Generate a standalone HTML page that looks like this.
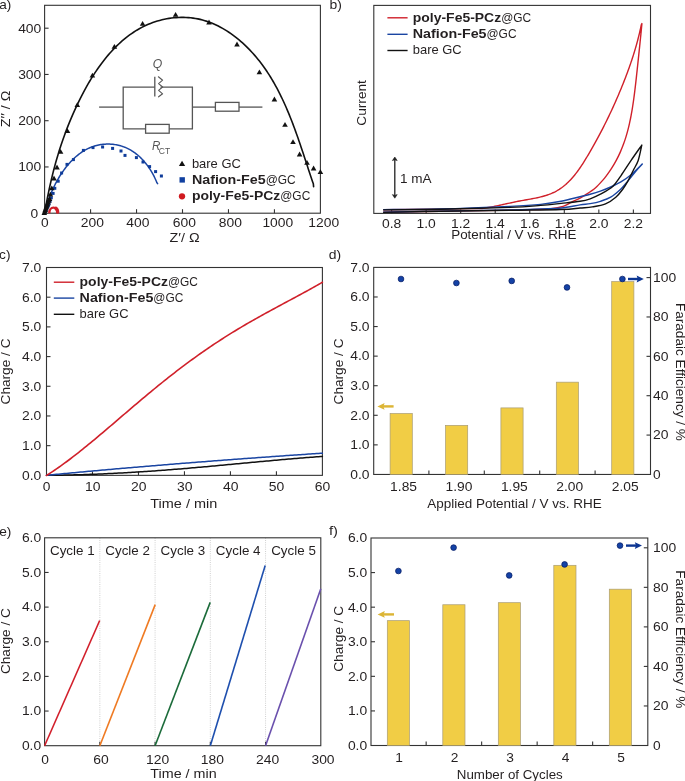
<!DOCTYPE html>
<html><head><meta charset="utf-8"><style>
html,body{margin:0;padding:0;background:#fff;overflow:hidden;}
svg{display:block;will-change:transform;}
text{font-family:"Liberation Sans",sans-serif;}
</style></head><body>
<svg width="685" height="781" viewBox="0 0 685 781">
<rect width="685" height="781" fill="#fff"/>
<text x="-0.72" y="9.40" font-size="12.70" fill="#231f20" textLength="12.09" lengthAdjust="spacingAndGlyphs">a)</text>
<text x="329.60" y="9.00" font-size="12.70" fill="#231f20" textLength="12.39" lengthAdjust="spacingAndGlyphs">b)</text>
<text x="-0.91" y="258.80" font-size="12.70" fill="#231f20" textLength="11.41" lengthAdjust="spacingAndGlyphs">c)</text>
<text x="328.80" y="258.80" font-size="12.70" fill="#231f20" textLength="12.39" lengthAdjust="spacingAndGlyphs">d)</text>
<text x="-0.82" y="535.80" font-size="12.70" fill="#231f20" textLength="12.19" lengthAdjust="spacingAndGlyphs">e)</text>
<text x="328.90" y="535.30" font-size="12.70" fill="#231f20" textLength="9.03" lengthAdjust="spacingAndGlyphs">f)</text>
<rect x="44.60" y="5.30" width="275.80" height="207.90" fill="none" stroke="#333" stroke-width="1.1"/>
<line x1="90.57" y1="213.20" x2="90.57" y2="209.20" stroke="#333" stroke-width="1.1"/>
<line x1="136.53" y1="213.20" x2="136.53" y2="209.20" stroke="#333" stroke-width="1.1"/>
<line x1="182.50" y1="213.20" x2="182.50" y2="209.20" stroke="#333" stroke-width="1.1"/>
<line x1="228.47" y1="213.20" x2="228.47" y2="209.20" stroke="#333" stroke-width="1.1"/>
<line x1="274.43" y1="213.20" x2="274.43" y2="209.20" stroke="#333" stroke-width="1.1"/>
<line x1="44.60" y1="166.95" x2="48.60" y2="166.95" stroke="#333" stroke-width="1.1"/>
<line x1="44.60" y1="120.70" x2="48.60" y2="120.70" stroke="#333" stroke-width="1.1"/>
<line x1="44.60" y1="74.45" x2="48.60" y2="74.45" stroke="#333" stroke-width="1.1"/>
<line x1="44.60" y1="28.20" x2="48.60" y2="28.20" stroke="#333" stroke-width="1.1"/>
<text x="41.11" y="227.20" font-size="12.70" fill="#231f20" textLength="7.65" lengthAdjust="spacingAndGlyphs">0</text>
<text x="80.74" y="227.20" font-size="12.70" fill="#231f20" textLength="23.15" lengthAdjust="spacingAndGlyphs">200</text>
<text x="126.24" y="227.20" font-size="12.70" fill="#231f20" textLength="23.15" lengthAdjust="spacingAndGlyphs">400</text>
<text x="172.84" y="227.20" font-size="12.70" fill="#231f20" textLength="23.15" lengthAdjust="spacingAndGlyphs">600</text>
<text x="218.74" y="227.20" font-size="12.70" fill="#231f20" textLength="23.15" lengthAdjust="spacingAndGlyphs">800</text>
<text x="262.40" y="227.20" font-size="12.70" fill="#231f20" textLength="30.80" lengthAdjust="spacingAndGlyphs">1000</text>
<text x="308.30" y="227.20" font-size="12.70" fill="#231f20" textLength="30.80" lengthAdjust="spacingAndGlyphs">1200</text>
<text x="30.42" y="217.55" font-size="12.70" fill="#231f20" textLength="7.65" lengthAdjust="spacingAndGlyphs">0</text>
<text x="18.17" y="171.30" font-size="12.70" fill="#231f20" textLength="23.15" lengthAdjust="spacingAndGlyphs">100</text>
<text x="18.17" y="125.05" font-size="12.70" fill="#231f20" textLength="23.15" lengthAdjust="spacingAndGlyphs">200</text>
<text x="18.17" y="78.80" font-size="12.70" fill="#231f20" textLength="23.15" lengthAdjust="spacingAndGlyphs">300</text>
<text x="18.17" y="32.55" font-size="12.70" fill="#231f20" textLength="23.15" lengthAdjust="spacingAndGlyphs">400</text>
<text x="169.60" y="241.90" font-size="12.70" fill="#231f20" textLength="30.03" lengthAdjust="spacingAndGlyphs">Z′/ Ω</text>
<text transform="translate(9.90,108.90) rotate(-90)" x="-18.30" y="0" font-size="12.70" fill="#231f20" textLength="36.58" lengthAdjust="spacingAndGlyphs">Z′′ / Ω</text>
<line x1="99.10" y1="107.10" x2="123.20" y2="107.10" stroke="#555" stroke-width="1.3"/>
<path d="M154.80,87.20 L123.20,87.20 L123.20,128.90 L145.60,128.90" fill="none" stroke="#555" stroke-width="1.3" stroke-linecap="butt" stroke-linejoin="miter"/>
<rect x="145.60" y="124.40" width="23.60" height="8.80" fill="none" stroke="#555" stroke-width="1.3"/>
<path d="M169.20,128.90 L192.40,128.90 L192.40,87.20 L160.50,87.20" fill="none" stroke="#555" stroke-width="1.3" stroke-linecap="butt" stroke-linejoin="miter"/>
<line x1="192.40" y1="107.10" x2="215.40" y2="107.10" stroke="#555" stroke-width="1.3"/>
<rect x="215.40" y="102.40" width="23.60" height="8.80" fill="none" stroke="#555" stroke-width="1.3"/>
<line x1="239.00" y1="107.10" x2="262.40" y2="107.10" stroke="#555" stroke-width="1.3"/>
<line x1="154.80" y1="76.80" x2="154.80" y2="96.60" stroke="#555" stroke-width="1.3"/>
<path d="M158.40,76.80 L162.60,80.20 L158.60,83.60 L162.60,87.00 L158.60,90.40 L162.60,93.80 L158.60,96.80" fill="none" stroke="#555" stroke-width="1.1" stroke-linejoin="round" stroke-linecap="round"/>
<text x="152.85" y="67.60" font-size="12.70" font-style="italic" fill="#555" textLength="9.53" lengthAdjust="spacingAndGlyphs">Q</text>
<text x="152.00" y="150.30" font-size="12.70" font-style="italic" fill="#555" textLength="8.35" lengthAdjust="spacingAndGlyphs">R</text>
<text x="158.80" y="153.50" font-size="9.10" fill="#555" textLength="11.43" lengthAdjust="spacingAndGlyphs">CT</text>
<path d="M44.60,213.20 L45.02,210.86 L45.46,208.36 L45.91,205.87 L46.36,203.39 L46.83,200.92 L47.30,198.46 L47.79,196.02 L48.28,193.58 L48.78,191.16 L49.29,188.75 L49.81,186.35 L50.35,183.96 L50.89,181.58 L51.44,179.20 L52.01,176.84 L52.58,174.48 L53.17,172.13 L53.77,169.80 L54.39,167.46 L55.01,165.14 L55.65,162.82 L56.30,160.51 L56.96,158.20 L57.64,155.90 L58.34,153.61 L59.04,151.32 L59.76,149.03 L60.50,146.75 L61.25,144.48 L62.02,142.21 L62.80,139.94 L63.60,137.67 L64.41,135.41 L65.24,133.15 L66.09,130.89 L66.95,128.63 L67.83,126.38 L68.73,124.12 L69.65,121.87 L70.59,119.61 L71.54,117.36 L72.51,115.11 L73.50,112.85 L74.51,110.59 L75.54,108.34 L76.59,106.08 L77.66,103.82 L78.75,101.56 L79.86,99.31 L81.00,97.06 L82.15,94.81 L83.32,92.58 L84.52,90.34 L85.73,88.12 L86.97,85.91 L88.23,83.71 L89.52,81.52 L90.82,79.35 L92.15,77.20 L93.51,75.06 L94.88,72.94 L96.28,70.83 L97.71,68.75 L99.15,66.70 L100.63,64.66 L102.12,62.65 L103.65,60.67 L105.19,58.71 L106.77,56.78 L108.36,54.89 L109.99,53.02 L111.64,51.19 L113.31,49.39 L115.02,47.63 L116.75,45.90 L118.51,44.21 L120.29,42.56 L122.10,40.95 L123.94,39.39 L125.81,37.86 L127.71,36.38 L129.64,34.95 L131.59,33.56 L133.57,32.23 L135.59,30.94 L137.63,29.70 L139.70,28.52 L141.81,27.39 L143.94,26.31 L146.10,25.29 L148.30,24.33 L150.52,23.43 L152.77,22.58 L155.04,21.80 L157.34,21.08 L159.66,20.42 L162.00,19.82 L164.35,19.28 L166.72,18.81 L169.10,18.41 L171.48,18.07 L173.88,17.79 L176.29,17.59 L178.69,17.45 L181.10,17.38 L183.51,17.38 L185.92,17.45 L188.32,17.59 L190.71,17.80 L193.10,18.09 L195.47,18.45 L197.84,18.89 L200.18,19.40 L202.51,19.99 L204.82,20.65 L207.12,21.38 L209.39,22.18 L211.65,23.06 L213.88,24.00 L216.09,25.00 L218.28,26.06 L220.44,27.19 L222.59,28.37 L224.71,29.61 L226.80,30.90 L228.87,32.25 L230.91,33.64 L232.92,35.09 L234.91,36.58 L236.86,38.11 L238.79,39.68 L240.69,41.30 L242.56,42.95 L244.39,44.63 L246.20,46.35 L247.97,48.11 L249.71,49.89 L251.41,51.69 L253.08,53.53 L254.72,55.39 L256.32,57.27 L257.89,59.17 L259.42,61.10 L260.93,63.05 L262.41,65.03 L263.85,67.02 L265.27,69.03 L266.65,71.07 L268.01,73.12 L269.34,75.19 L270.65,77.28 L271.92,79.39 L273.18,81.51 L274.40,83.65 L275.60,85.80 L276.78,87.97 L277.94,90.15 L279.07,92.35 L280.18,94.56 L281.27,96.78 L282.34,99.01 L283.39,101.25 L284.42,103.50 L285.44,105.77 L286.43,108.04 L287.41,110.32 L288.37,112.61 L289.31,114.90 L290.24,117.20 L291.15,119.51 L292.05,121.82 L292.94,124.14 L293.81,126.46 L294.67,128.78 L295.52,131.10 L296.36,133.43 L297.19,135.76 L298.01,138.09 L298.82,140.42 L299.62,142.75 L300.41,145.08 L301.20,147.41 L301.98,149.73 L302.75,152.05 L303.52,154.37 L304.28,156.68 L305.04,158.99 L305.80,161.29 L306.56,163.59 L307.31,165.87 L308.06,168.16 L308.81,170.43 L309.56,172.69 L310.31,174.95 L311.07,177.19 L311.82,179.43 L312.58,181.65 L313.34,183.86 L313.60,186.60" fill="none" stroke="#111111" stroke-width="1.6" stroke-linejoin="round" stroke-linecap="round"/>
<path d="M44.60,213.20 L45.07,211.82 L45.30,210.85 L45.54,209.87 L45.79,208.88 L46.06,207.88 L46.34,206.88 L46.63,205.87 L46.93,204.85 L47.24,203.83 L47.57,202.80 L47.90,201.77 L48.25,200.73 L48.61,199.69 L48.98,198.64 L49.37,197.60 L49.76,196.55 L50.17,195.50 L50.59,194.44 L51.02,193.39 L51.46,192.33 L51.91,191.28 L52.37,190.22 L52.85,189.17 L53.33,188.11 L53.83,187.06 L54.34,186.01 L54.86,184.97 L55.39,183.92 L55.94,182.88 L56.49,181.84 L57.05,180.81 L57.63,179.79 L58.22,178.76 L58.81,177.75 L59.42,176.74 L60.04,175.73 L60.67,174.74 L61.32,173.75 L61.97,172.77 L62.63,171.80 L63.31,170.84 L63.99,169.88 L64.69,168.94 L65.39,168.01 L66.11,167.08 L66.84,166.17 L67.57,165.27 L68.32,164.39 L69.08,163.51 L69.85,162.65 L70.63,161.80 L71.42,160.97 L72.22,160.15 L73.03,159.35 L73.85,158.56 L74.68,157.79 L75.53,157.03 L76.38,156.29 L77.24,155.57 L78.11,154.87 L78.99,154.18 L79.89,153.51 L80.79,152.86 L81.70,152.23 L82.62,151.63 L83.55,151.04 L84.50,150.47 L85.45,149.92 L86.41,149.40 L87.38,148.90 L88.36,148.42 L89.35,147.97 L90.35,147.53 L91.37,147.13 L92.39,146.74 L93.41,146.39 L94.45,146.05 L95.50,145.75 L96.56,145.46 L97.62,145.21 L98.69,144.98 L99.77,144.77 L100.85,144.59 L101.94,144.44 L103.03,144.31 L104.12,144.21 L105.22,144.14 L106.32,144.09 L107.42,144.06 L108.52,144.06 L109.63,144.09 L110.73,144.15 L111.83,144.23 L112.93,144.33 L114.03,144.47 L115.13,144.62 L116.22,144.81 L117.31,145.02 L118.40,145.26 L119.48,145.52 L120.55,145.81 L121.62,146.13 L122.68,146.47 L123.73,146.84 L124.78,147.24 L125.81,147.66 L126.84,148.11 L127.85,148.59 L128.86,149.10 L129.85,149.63 L130.83,150.18 L131.80,150.77 L132.76,151.37 L133.70,152.01 L134.63,152.67 L135.55,153.35 L136.45,154.05 L137.34,154.77 L138.22,155.52 L139.09,156.28 L139.93,157.07 L140.77,157.87 L141.59,158.69 L142.40,159.53 L143.19,160.38 L143.97,161.26 L144.73,162.14 L145.48,163.04 L146.21,163.95 L146.92,164.88 L147.62,165.82 L148.31,166.76 L148.98,167.72 L149.63,168.69 L150.26,169.67 L150.88,170.66 L151.48,171.65 L152.07,172.65 L152.63,173.66 L153.18,174.67 L153.72,175.68 L154.23,176.70 L154.73,177.73 L155.20,178.75 L155.66,179.78 L156.10,180.81 L156.53,181.83 L156.93,182.86 L157.60,183.60" fill="none" stroke="#1a45a2" stroke-width="1.5" stroke-linejoin="round" stroke-linecap="round"/>
<rect x="43.70" y="210.50" width="3" height="3" fill="#0f3c9a"/>
<rect x="44.30" y="209.10" width="3" height="3" fill="#0f3c9a"/>
<rect x="44.90" y="207.70" width="3" height="3" fill="#0f3c9a"/>
<rect x="45.50" y="206.30" width="3" height="3" fill="#0f3c9a"/>
<rect x="46.10" y="205.10" width="3" height="3" fill="#0f3c9a"/>
<rect x="46.80" y="204.10" width="3" height="3" fill="#0f3c9a"/>
<rect x="47.50" y="202.50" width="3" height="3" fill="#0f3c9a"/>
<rect x="48.60" y="199.50" width="3" height="3" fill="#0f3c9a"/>
<rect x="49.80" y="196.30" width="3" height="3" fill="#0f3c9a"/>
<rect x="51.60" y="191.90" width="3" height="3" fill="#0f3c9a"/>
<rect x="53.30" y="186.80" width="3" height="3" fill="#0f3c9a"/>
<rect x="56.70" y="179.70" width="3" height="3" fill="#0f3c9a"/>
<rect x="60.10" y="171.50" width="3" height="3" fill="#0f3c9a"/>
<rect x="65.50" y="162.90" width="3" height="3" fill="#0f3c9a"/>
<rect x="71.90" y="158.10" width="3" height="3" fill="#0f3c9a"/>
<rect x="81.90" y="148.90" width="3" height="3" fill="#0f3c9a"/>
<rect x="91.50" y="146.10" width="3" height="3" fill="#0f3c9a"/>
<rect x="101.10" y="145.50" width="3" height="3" fill="#0f3c9a"/>
<rect x="111.10" y="146.90" width="3" height="3" fill="#0f3c9a"/>
<rect x="119.50" y="149.50" width="3" height="3" fill="#0f3c9a"/>
<rect x="123.50" y="153.90" width="3" height="3" fill="#0f3c9a"/>
<rect x="134.90" y="156.10" width="3" height="3" fill="#0f3c9a"/>
<rect x="141.50" y="160.50" width="3" height="3" fill="#0f3c9a"/>
<rect x="148.10" y="165.10" width="3" height="3" fill="#0f3c9a"/>
<rect x="154.10" y="170.10" width="3" height="3" fill="#0f3c9a"/>
<rect x="159.90" y="174.50" width="3" height="3" fill="#0f3c9a"/>
<path d="M41.50,215.00 L47.10,215.00 L44.30,210.20 Z" fill="#111111"/>
<path d="M42.00,213.60 L47.60,213.60 L44.80,208.80 Z" fill="#111111"/>
<path d="M42.50,212.00 L48.10,212.00 L45.30,207.20 Z" fill="#111111"/>
<path d="M43.00,210.60 L48.60,210.60 L45.80,205.80 Z" fill="#111111"/>
<path d="M43.50,209.20 L49.10,209.20 L46.30,204.40 Z" fill="#111111"/>
<path d="M44.00,207.70 L49.60,207.70 L46.80,202.90 Z" fill="#111111"/>
<path d="M44.50,206.20 L50.10,206.20 L47.30,201.40 Z" fill="#111111"/>
<path d="M45.20,204.60 L50.80,204.60 L48.00,199.80 Z" fill="#111111"/>
<path d="M46.00,202.70 L51.60,202.70 L48.80,197.90 Z" fill="#111111"/>
<path d="M46.70,200.90 L52.30,200.90 L49.50,196.10 Z" fill="#111111"/>
<path d="M47.60,196.50 L53.20,196.50 L50.40,191.70 Z" fill="#111111"/>
<path d="M49.00,190.20 L54.60,190.20 L51.80,185.40 Z" fill="#111111"/>
<path d="M51.20,180.40 L56.80,180.40 L54.00,175.60 Z" fill="#111111"/>
<path d="M54.20,169.40 L59.80,169.40 L57.00,164.60 Z" fill="#111111"/>
<path d="M57.80,153.70 L63.40,153.70 L60.60,148.90 Z" fill="#111111"/>
<path d="M64.70,133.10 L70.30,133.10 L67.50,128.30 Z" fill="#111111"/>
<path d="M74.50,107.00 L80.10,107.00 L77.30,102.20 Z" fill="#111111"/>
<path d="M89.60,77.60 L95.20,77.60 L92.40,72.80 Z" fill="#111111"/>
<path d="M111.60,48.80 L117.20,48.80 L114.40,44.00 Z" fill="#111111"/>
<path d="M139.80,25.70 L145.40,25.70 L142.60,20.90 Z" fill="#111111"/>
<path d="M172.80,16.80 L178.40,16.80 L175.60,12.00 Z" fill="#111111"/>
<path d="M206.20,24.40 L211.80,24.40 L209.00,19.60 Z" fill="#111111"/>
<path d="M234.20,46.40 L239.80,46.40 L237.00,41.60 Z" fill="#111111"/>
<path d="M256.60,74.20 L262.20,74.20 L259.40,69.40 Z" fill="#111111"/>
<path d="M271.60,101.40 L277.20,101.40 L274.40,96.60 Z" fill="#111111"/>
<path d="M282.20,126.80 L287.80,126.80 L285.00,122.00 Z" fill="#111111"/>
<path d="M290.20,144.00 L295.80,144.00 L293.00,139.20 Z" fill="#111111"/>
<path d="M296.80,156.40 L302.40,156.40 L299.60,151.60 Z" fill="#111111"/>
<path d="M304.20,164.80 L309.80,164.80 L307.00,160.00 Z" fill="#111111"/>
<path d="M310.80,170.40 L316.40,170.40 L313.60,165.60 Z" fill="#111111"/>
<path d="M317.60,174.00 L323.20,174.00 L320.40,169.20 Z" fill="#111111"/>
<path d="M49.3,213.2 A4.1,5.6 0 0 1 57.5,213.2" fill="none" stroke="#d0202a" stroke-width="2.4" stroke-linejoin="round" stroke-linecap="butt"/>
<circle cx="57.66" cy="212.01" r="1.75" fill="#d0202a"/>
<circle cx="57.39" cy="210.66" r="1.75" fill="#d0202a"/>
<circle cx="56.79" cy="209.29" r="1.75" fill="#d0202a"/>
<circle cx="55.87" cy="208.13" r="1.75" fill="#d0202a"/>
<path d="M178.90,166.10 L185.20,166.10 L182.05,160.70 Z" fill="#111111"/>
<rect x="179.5" y="177.2" width="5.4" height="5.4" fill="#1040a0"/>
<circle cx="182" cy="196.3" r="3.15" fill="#d01a20"/>
<text x="191.90" y="167.50" font-size="12.70" fill="#231f20" textLength="48.93" lengthAdjust="spacingAndGlyphs">bare GC</text>
<text x="191.90" y="184.00" font-size="12.70" font-weight="bold" fill="#231f20" textLength="73.73" lengthAdjust="spacingAndGlyphs">Nafion-Fe5</text>
<text x="265.63" y="184.00" font-size="12.70" fill="#231f20" textLength="29.98" lengthAdjust="spacingAndGlyphs">@GC</text>
<text x="191.90" y="200.20" font-size="12.70" font-weight="bold" fill="#231f20" textLength="88.38" lengthAdjust="spacingAndGlyphs">poly-Fe5-PCz</text>
<text x="280.28" y="200.20" font-size="12.70" fill="#231f20" textLength="29.98" lengthAdjust="spacingAndGlyphs">@GC</text>
<rect x="373.80" y="5.40" width="276.70" height="208.00" fill="none" stroke="#333" stroke-width="1.1"/>
<line x1="391.60" y1="213.40" x2="391.60" y2="209.40" stroke="#333" stroke-width="1.1"/>
<line x1="426.14" y1="213.40" x2="426.14" y2="209.40" stroke="#333" stroke-width="1.1"/>
<line x1="460.68" y1="213.40" x2="460.68" y2="209.40" stroke="#333" stroke-width="1.1"/>
<line x1="495.22" y1="213.40" x2="495.22" y2="209.40" stroke="#333" stroke-width="1.1"/>
<line x1="529.76" y1="213.40" x2="529.76" y2="209.40" stroke="#333" stroke-width="1.1"/>
<line x1="564.30" y1="213.40" x2="564.30" y2="209.40" stroke="#333" stroke-width="1.1"/>
<line x1="598.84" y1="213.40" x2="598.84" y2="209.40" stroke="#333" stroke-width="1.1"/>
<line x1="633.38" y1="213.40" x2="633.38" y2="209.40" stroke="#333" stroke-width="1.1"/>
<text x="381.95" y="227.50" font-size="12.70" fill="#231f20" textLength="19.27" lengthAdjust="spacingAndGlyphs">0.8</text>
<text x="416.49" y="227.50" font-size="12.70" fill="#231f20" textLength="19.27" lengthAdjust="spacingAndGlyphs">1.0</text>
<text x="451.03" y="227.50" font-size="12.70" fill="#231f20" textLength="19.27" lengthAdjust="spacingAndGlyphs">1.2</text>
<text x="485.57" y="227.50" font-size="12.70" fill="#231f20" textLength="19.27" lengthAdjust="spacingAndGlyphs">1.4</text>
<text x="520.11" y="227.50" font-size="12.70" fill="#231f20" textLength="19.27" lengthAdjust="spacingAndGlyphs">1.6</text>
<text x="554.65" y="227.50" font-size="12.70" fill="#231f20" textLength="19.27" lengthAdjust="spacingAndGlyphs">1.8</text>
<text x="589.19" y="227.50" font-size="12.70" fill="#231f20" textLength="19.27" lengthAdjust="spacingAndGlyphs">2.0</text>
<text x="623.73" y="227.50" font-size="12.70" fill="#231f20" textLength="19.27" lengthAdjust="spacingAndGlyphs">2.2</text>
<text x="451.20" y="239.20" font-size="12.70" fill="#231f20" textLength="125.32" lengthAdjust="spacingAndGlyphs">Potential / V vs. RHE</text>
<text transform="translate(365.60,102.90) rotate(-90)" x="-22.78" y="0" font-size="12.70" fill="#231f20" textLength="45.57" lengthAdjust="spacingAndGlyphs">Current</text>
<path d="M383.20,209.80 L440.00,209.10 L480.00,208.40 L481.88,208.55 L483.51,208.31 L485.14,208.06 L486.77,207.79 L488.40,207.51 L490.02,207.21 L491.65,206.90 L493.27,206.58 L494.89,206.25 L496.52,205.92 L498.14,205.57 L499.77,205.22 L501.41,204.87 L503.05,204.51 L504.69,204.15 L506.34,203.79 L507.99,203.43 L509.65,203.07 L511.32,202.71 L513.00,202.35 L514.69,202.00 L516.38,201.65 L518.09,201.31 L519.81,200.98 L521.54,200.66 L523.28,200.34 L525.03,200.03 L526.78,199.72 L528.54,199.40 L530.29,199.08 L532.05,198.76 L533.80,198.42 L535.54,198.07 L537.28,197.70 L539.00,197.32 L540.71,196.91 L542.40,196.48 L544.07,196.02 L545.72,195.53 L547.35,195.00 L548.95,194.44 L550.53,193.84 L552.07,193.20 L553.58,192.51 L555.05,191.78 L556.49,191.01 L557.90,190.19 L559.28,189.33 L560.63,188.42 L561.94,187.48 L563.23,186.50 L564.49,185.49 L565.73,184.44 L566.93,183.36 L568.11,182.24 L569.27,181.10 L570.41,179.92 L571.52,178.72 L572.61,177.49 L573.68,176.23 L574.73,174.95 L575.76,173.65 L576.78,172.32 L577.78,170.98 L578.76,169.62 L579.73,168.24 L580.68,166.85 L581.62,165.44 L582.55,164.02 L583.47,162.58 L584.38,161.14 L585.28,159.69 L586.17,158.23 L587.05,156.76 L587.93,155.29 L588.80,153.82 L589.66,152.34 L590.52,150.86 L591.38,149.38 L592.23,147.89 L593.07,146.40 L593.91,144.91 L594.75,143.42 L595.58,141.92 L596.40,140.42 L597.22,138.92 L598.03,137.41 L598.84,135.90 L599.64,134.39 L600.44,132.88 L601.23,131.37 L602.02,129.85 L602.80,128.33 L603.57,126.81 L604.34,125.29 L605.11,123.76 L605.87,122.23 L606.63,120.70 L607.38,119.17 L608.12,117.63 L608.86,116.10 L609.59,114.56 L610.32,113.02 L611.05,111.48 L611.77,109.93 L612.48,108.39 L613.19,106.84 L613.89,105.29 L614.59,103.74 L615.28,102.19 L615.97,100.63 L616.65,99.08 L617.32,97.52 L618.00,95.96 L618.66,94.40 L619.32,92.84 L619.98,91.28 L620.63,89.71 L621.27,88.15 L621.91,86.58 L622.55,85.02 L623.18,83.45 L623.80,81.88 L624.42,80.31 L625.03,78.73 L625.64,77.16 L626.24,75.58 L626.83,74.00 L627.42,72.42 L628.01,70.84 L628.58,69.26 L629.15,67.67 L629.71,66.08 L630.27,64.49 L630.82,62.89 L631.36,61.29 L631.89,59.69 L632.42,58.09 L632.94,56.48 L633.45,54.87 L633.96,53.26 L634.45,51.64 L634.94,50.01 L635.42,48.39 L635.89,46.76 L636.36,45.12 L636.81,43.49 L637.26,41.84 L637.70,40.20 L638.13,38.54 L638.54,36.89 L638.96,35.22 L639.36,33.56 L639.75,31.89 L640.13,30.21 L640.50,28.53 L640.87,26.84 L641.22,25.14 L641.90,23.60 L641.90,23.60 C641.84,24.27 641.65,26.27 641.52,27.60 C641.40,28.93 641.27,30.27 641.14,31.60 C641.01,32.93 640.88,34.27 640.75,35.60 C640.62,36.93 640.48,38.27 640.34,39.60 C640.21,40.93 640.07,42.27 639.93,43.60 C639.80,44.93 639.66,46.27 639.52,47.60 C639.38,48.93 639.24,50.27 639.10,51.60 C638.96,52.93 638.82,54.27 638.68,55.60 C638.54,56.93 638.40,58.27 638.26,59.60 C638.12,60.93 637.98,62.27 637.84,63.60 C637.70,64.93 637.56,66.27 637.41,67.60 C637.27,68.93 637.13,70.27 636.98,71.60 C636.84,72.93 636.70,74.27 636.55,75.60 C636.40,76.93 636.26,78.27 636.11,79.60 C635.96,80.93 635.81,82.27 635.66,83.60 C635.50,84.93 635.35,86.27 635.19,87.60 C635.03,88.93 634.87,90.27 634.70,91.60 C634.54,92.93 634.37,94.27 634.19,95.60 C634.02,96.93 633.84,98.27 633.66,99.60 C633.47,100.93 633.28,102.27 633.08,103.60 C632.88,104.93 632.68,106.27 632.47,107.60 C632.25,108.93 632.03,110.27 631.80,111.60 C631.57,112.93 631.33,114.27 631.08,115.60 C630.83,116.93 630.57,118.27 630.30,119.60 C630.02,120.93 629.74,122.27 629.44,123.60 C629.14,124.93 628.83,126.27 628.50,127.60 C628.17,128.93 627.83,130.27 627.46,131.60 C627.10,132.93 626.72,134.27 626.32,135.60 C625.93,136.93 625.51,138.27 625.07,139.60 C624.63,140.93 624.17,142.27 623.69,143.60 C623.21,144.93 622.70,146.27 622.17,147.60 C621.64,148.93 621.08,150.27 620.50,151.60 C619.91,152.93 619.30,154.27 618.66,155.60 C618.01,156.93 617.34,158.27 616.64,159.60 C615.93,160.93 615.20,162.27 614.43,163.60 C613.65,164.93 612.85,166.27 612.00,167.60 C611.16,168.93 610.27,170.27 609.35,171.60 C608.43,172.93 607.47,174.27 606.46,175.60 C605.45,176.93 605.17,177.53 603.31,179.60 C601.45,181.67 598.33,185.40 595.30,188.00 C592.27,190.60 587.65,193.50 585.10,195.20 C582.55,196.90 582.30,197.02 580.00,198.20 C577.70,199.38 574.12,200.93 571.30,202.30 C568.48,203.67 566.50,205.33 563.10,206.40 C559.70,207.47 556.42,208.17 550.90,208.70 C545.38,209.23 538.48,209.32 530.00,209.60 C521.52,209.88 515.00,210.13 500.00,210.40 C485.00,210.67 459.47,210.88 440.00,211.20 C420.53,211.52 392.67,212.12 383.20,212.30" fill="none" stroke="#d0202a" stroke-width="1.4" stroke-linejoin="round" stroke-linecap="butt"/>
<path d="M383.20,209.60 C392.67,209.50 418.87,209.53 440.00,209.00 C461.13,208.47 493.22,207.17 510.00,206.40 C526.78,205.63 532.18,205.25 540.70,204.40 C549.22,203.55 554.55,202.58 561.10,201.30 C567.65,200.02 575.15,197.88 580.00,196.70 C584.85,195.52 586.80,195.13 590.20,194.20 C593.60,193.27 596.98,192.30 600.40,191.10 C603.82,189.90 607.28,188.53 610.70,187.00 C614.12,185.47 617.50,183.95 620.90,181.90 C624.30,179.85 627.53,177.68 631.10,174.70 C634.67,171.72 640.43,165.78 642.30,164.00 L642.30,164.00 C641.28,165.12 638.58,167.88 636.20,170.70 C633.82,173.52 630.55,177.85 628.00,180.90 C625.45,183.95 623.78,186.28 620.90,189.00 C618.02,191.72 614.12,195.15 610.70,197.20 C607.28,199.25 603.82,200.23 600.40,201.30 C596.98,202.37 593.60,203.00 590.20,203.60 C586.80,204.20 584.85,204.17 580.00,204.90 C575.15,205.63 567.65,207.33 561.10,208.00 C554.55,208.67 549.22,208.57 540.70,208.90 C532.18,209.23 526.78,209.63 510.00,210.00 C493.22,210.37 461.13,210.73 440.00,211.10 C418.87,211.47 392.67,212.02 383.20,212.20" fill="none" stroke="#1a45a2" stroke-width="1.4" stroke-linejoin="round" stroke-linecap="butt"/>
<path d="M383.20,209.90 C392.67,209.78 418.87,209.62 440.00,209.20 C461.13,208.78 493.22,208.03 510.00,207.40 C526.78,206.77 532.18,206.07 540.70,205.40 C549.22,204.73 554.55,204.08 561.10,203.40 C567.65,202.72 575.15,202.07 580.00,201.30 C584.85,200.53 586.80,199.98 590.20,198.80 C593.60,197.62 596.65,196.25 600.40,194.20 C604.15,192.15 609.28,189.57 612.70,186.50 C616.12,183.43 617.83,180.15 620.90,175.80 C623.97,171.45 627.62,165.52 631.10,160.40 C634.58,155.28 640.02,147.65 641.80,145.10 L641.80,145.10 C641.20,147.65 639.65,156.13 638.20,160.40 C636.75,164.67 634.80,167.28 633.10,170.70 C631.40,174.12 629.70,177.85 628.00,180.90 C626.30,183.95 624.93,186.28 622.90,189.00 C620.87,191.72 618.70,194.72 615.80,197.20 C612.90,199.68 609.42,202.28 605.50,203.90 C601.58,205.52 596.55,206.22 592.30,206.90 C588.05,207.58 585.20,207.57 580.00,208.00 C574.80,208.43 572.77,209.12 561.10,209.50 C549.43,209.88 530.18,210.00 510.00,210.30 C489.82,210.60 461.13,210.95 440.00,211.30 C418.87,211.65 392.67,212.22 383.20,212.40" fill="none" stroke="#111111" stroke-width="1.4" stroke-linejoin="round" stroke-linecap="butt"/>
<line x1="387.40" y1="17.80" x2="407.60" y2="17.80" stroke="#d0202a" stroke-width="1.4"/>
<line x1="387.40" y1="34.30" x2="407.60" y2="34.30" stroke="#1a45a2" stroke-width="1.4"/>
<line x1="387.40" y1="50.50" x2="407.60" y2="50.50" stroke="#111111" stroke-width="1.4"/>
<text x="412.80" y="22.10" font-size="12.70" font-weight="bold" fill="#231f20" textLength="88.38" lengthAdjust="spacingAndGlyphs">poly-Fe5-PCz</text>
<text x="501.18" y="22.10" font-size="12.70" fill="#231f20" textLength="29.98" lengthAdjust="spacingAndGlyphs">@GC</text>
<text x="412.80" y="37.80" font-size="12.70" font-weight="bold" fill="#231f20" textLength="73.73" lengthAdjust="spacingAndGlyphs">Nafion-Fe5</text>
<text x="486.53" y="37.80" font-size="12.70" fill="#231f20" textLength="29.98" lengthAdjust="spacingAndGlyphs">@GC</text>
<text x="412.80" y="54.40" font-size="12.70" fill="#231f20" textLength="48.93" lengthAdjust="spacingAndGlyphs">bare GC</text>
<line x1="394.80" y1="159.00" x2="394.80" y2="196.20" stroke="#222" stroke-width="1.3"/>
<path d="M394.8,157.0 L397.2,160.6 L394.8,159.8 L392.4,160.6 Z" fill="#222" stroke="#222" stroke-width="0.6" stroke-linejoin="round"/>
<path d="M394.8,198.2 L397.2,194.6 L394.8,195.4 L392.4,194.6 Z" fill="#222" stroke="#222" stroke-width="0.6" stroke-linejoin="round"/>
<text x="400.00" y="182.90" font-size="12.70" fill="#231f20" textLength="31.62" lengthAdjust="spacingAndGlyphs">1 mA</text>
<rect x="46.50" y="267.50" width="275.90" height="207.85" fill="none" stroke="#333" stroke-width="1.1"/>
<line x1="92.48" y1="475.35" x2="92.48" y2="471.35" stroke="#333" stroke-width="1.1"/>
<line x1="138.47" y1="475.35" x2="138.47" y2="471.35" stroke="#333" stroke-width="1.1"/>
<line x1="184.45" y1="475.35" x2="184.45" y2="471.35" stroke="#333" stroke-width="1.1"/>
<line x1="230.43" y1="475.35" x2="230.43" y2="471.35" stroke="#333" stroke-width="1.1"/>
<line x1="276.42" y1="475.35" x2="276.42" y2="471.35" stroke="#333" stroke-width="1.1"/>
<line x1="46.50" y1="445.66" x2="50.50" y2="445.66" stroke="#333" stroke-width="1.1"/>
<line x1="46.50" y1="415.96" x2="50.50" y2="415.96" stroke="#333" stroke-width="1.1"/>
<line x1="46.50" y1="386.27" x2="50.50" y2="386.27" stroke="#333" stroke-width="1.1"/>
<line x1="46.50" y1="356.58" x2="50.50" y2="356.58" stroke="#333" stroke-width="1.1"/>
<line x1="46.50" y1="326.89" x2="50.50" y2="326.89" stroke="#333" stroke-width="1.1"/>
<line x1="46.50" y1="297.19" x2="50.50" y2="297.19" stroke="#333" stroke-width="1.1"/>
<text x="42.86" y="490.90" font-size="12.70" fill="#231f20" textLength="7.65" lengthAdjust="spacingAndGlyphs">0</text>
<text x="84.96" y="490.90" font-size="12.70" fill="#231f20" textLength="15.51" lengthAdjust="spacingAndGlyphs">10</text>
<text x="130.94" y="490.90" font-size="12.70" fill="#231f20" textLength="15.51" lengthAdjust="spacingAndGlyphs">20</text>
<text x="176.92" y="490.90" font-size="12.70" fill="#231f20" textLength="15.51" lengthAdjust="spacingAndGlyphs">30</text>
<text x="222.91" y="490.90" font-size="12.70" fill="#231f20" textLength="15.51" lengthAdjust="spacingAndGlyphs">40</text>
<text x="268.89" y="490.90" font-size="12.70" fill="#231f20" textLength="15.51" lengthAdjust="spacingAndGlyphs">50</text>
<text x="314.87" y="490.90" font-size="12.70" fill="#231f20" textLength="15.51" lengthAdjust="spacingAndGlyphs">60</text>
<text x="22.01" y="479.70" font-size="12.70" fill="#231f20" textLength="19.27" lengthAdjust="spacingAndGlyphs">0.0</text>
<text x="22.01" y="450.01" font-size="12.70" fill="#231f20" textLength="19.27" lengthAdjust="spacingAndGlyphs">1.0</text>
<text x="22.01" y="420.31" font-size="12.70" fill="#231f20" textLength="19.27" lengthAdjust="spacingAndGlyphs">2.0</text>
<text x="22.01" y="390.62" font-size="12.70" fill="#231f20" textLength="19.27" lengthAdjust="spacingAndGlyphs">3.0</text>
<text x="22.01" y="360.93" font-size="12.70" fill="#231f20" textLength="19.27" lengthAdjust="spacingAndGlyphs">4.0</text>
<text x="22.01" y="331.24" font-size="12.70" fill="#231f20" textLength="19.27" lengthAdjust="spacingAndGlyphs">5.0</text>
<text x="22.01" y="301.54" font-size="12.70" fill="#231f20" textLength="19.27" lengthAdjust="spacingAndGlyphs">6.0</text>
<text x="22.01" y="271.85" font-size="12.70" fill="#231f20" textLength="19.27" lengthAdjust="spacingAndGlyphs">7.0</text>
<text x="150.30" y="507.70" font-size="12.70" fill="#231f20" textLength="66.97" lengthAdjust="spacingAndGlyphs">Time / min</text>
<text transform="translate(9.90,371.50) rotate(-90)" x="-32.98" y="0" font-size="12.70" fill="#231f20" textLength="65.99" lengthAdjust="spacingAndGlyphs">Charge / C</text>
<path d="M46.50,475.36 L48.50,475.34 L50.50,475.32 L52.50,475.30 L54.50,475.27 L56.50,475.24 L58.50,475.21 L60.50,475.17 L62.50,475.14 L64.50,475.10 L66.50,475.06 L68.50,475.01 L70.50,474.97 L72.50,474.92 L74.50,474.86 L76.50,474.81 L78.50,474.75 L80.50,474.70 L82.50,474.63 L84.50,474.57 L86.50,474.50 L88.50,474.43 L90.50,474.36 L92.50,474.29 L94.50,474.21 L96.50,474.14 L98.50,474.05 L100.50,473.97 L102.50,473.89 L104.50,473.80 L106.50,473.71 L108.50,473.62 L110.50,473.52 L112.50,473.42 L114.50,473.32 L116.50,473.22 L118.50,473.12 L120.50,473.01 L122.50,472.90 L124.50,472.79 L126.50,472.68 L128.50,472.56 L130.50,472.45 L132.50,472.33 L134.50,472.21 L136.50,472.08 L138.50,471.96 L140.50,471.83 L142.50,471.70 L144.50,471.57 L146.50,471.43 L148.50,471.30 L150.50,471.16 L152.50,471.02 L154.50,470.88 L156.50,470.73 L158.50,470.59 L160.50,470.44 L162.50,470.29 L164.50,470.14 L166.50,469.99 L168.50,469.84 L170.50,469.68 L172.50,469.52 L174.50,469.36 L176.50,469.20 L178.50,469.04 L180.50,468.88 L182.50,468.71 L184.50,468.55 L186.50,468.38 L188.50,468.21 L190.50,468.04 L192.50,467.87 L194.50,467.70 L196.50,467.52 L198.50,467.35 L200.50,467.17 L202.50,467.00 L204.50,466.82 L206.50,466.64 L208.50,466.46 L210.50,466.28 L212.50,466.10 L214.50,465.92 L216.50,465.73 L218.50,465.55 L220.50,465.36 L222.50,465.18 L224.50,464.99 L226.50,464.81 L228.50,464.62 L230.50,464.43 L232.50,464.25 L234.50,464.06 L236.50,463.87 L238.50,463.68 L240.50,463.50 L242.50,463.31 L244.50,463.12 L246.50,462.93 L248.50,462.74 L250.50,462.56 L252.50,462.37 L254.50,462.18 L256.50,461.99 L258.50,461.81 L260.50,461.62 L262.50,461.43 L264.50,461.25 L266.50,461.06 L268.50,460.88 L270.50,460.70 L272.50,460.52 L274.50,460.33 L276.50,460.15 L278.50,459.97 L280.50,459.80 L282.50,459.62 L284.50,459.44 L286.50,459.27 L288.50,459.09 L290.50,458.92 L292.50,458.75 L294.50,458.58 L296.50,458.42 L298.50,458.25 L300.50,458.09 L302.50,457.92 L304.50,457.76 L306.50,457.61 L308.50,457.45 L310.50,457.30 L312.50,457.15 L314.50,457.00 L316.50,456.85 L318.50,456.71 L320.50,456.56 L322.40,456.43" fill="none" stroke="#111111" stroke-width="1.5" stroke-linejoin="round" stroke-linecap="round"/>
<path d="M46.50,475.28 L48.50,475.09 L50.50,474.90 L52.50,474.70 L54.50,474.51 L56.50,474.32 L58.50,474.13 L60.50,473.94 L62.50,473.75 L64.50,473.57 L66.50,473.38 L68.50,473.19 L70.50,473.00 L72.50,472.82 L74.50,472.63 L76.50,472.45 L78.50,472.26 L80.50,472.08 L82.50,471.90 L84.50,471.71 L86.50,471.53 L88.50,471.35 L90.50,471.17 L92.50,470.99 L94.50,470.81 L96.50,470.63 L98.50,470.45 L100.50,470.27 L102.50,470.09 L104.50,469.91 L106.50,469.73 L108.50,469.56 L110.50,469.38 L112.50,469.21 L114.50,469.03 L116.50,468.86 L118.50,468.68 L120.50,468.51 L122.50,468.33 L124.50,468.16 L126.50,467.99 L128.50,467.82 L130.50,467.65 L132.50,467.48 L134.50,467.30 L136.50,467.13 L138.50,466.97 L140.50,466.80 L142.50,466.63 L144.50,466.46 L146.50,466.29 L148.50,466.13 L150.50,465.96 L152.50,465.79 L154.50,465.63 L156.50,465.46 L158.50,465.30 L160.50,465.13 L162.50,464.97 L164.50,464.81 L166.50,464.64 L168.50,464.48 L170.50,464.32 L172.50,464.16 L174.50,464.00 L176.50,463.84 L178.50,463.68 L180.50,463.52 L182.50,463.36 L184.50,463.20 L186.50,463.04 L188.50,462.88 L190.50,462.72 L192.50,462.57 L194.50,462.41 L196.50,462.25 L198.50,462.10 L200.50,461.94 L202.50,461.79 L204.50,461.63 L206.50,461.48 L208.50,461.32 L210.50,461.17 L212.50,461.02 L214.50,460.86 L216.50,460.71 L218.50,460.56 L220.50,460.41 L222.50,460.26 L224.50,460.11 L226.50,459.96 L228.50,459.81 L230.50,459.66 L232.50,459.51 L234.50,459.36 L236.50,459.21 L238.50,459.06 L240.50,458.92 L242.50,458.77 L244.50,458.62 L246.50,458.47 L248.50,458.33 L250.50,458.18 L252.50,458.04 L254.50,457.89 L256.50,457.75 L258.50,457.60 L260.50,457.46 L262.50,457.32 L264.50,457.17 L266.50,457.03 L268.50,456.89 L270.50,456.75 L272.50,456.60 L274.50,456.46 L276.50,456.32 L278.50,456.18 L280.50,456.04 L282.50,455.90 L284.50,455.76 L286.50,455.62 L288.50,455.48 L290.50,455.34 L292.50,455.21 L294.50,455.07 L296.50,454.93 L298.50,454.79 L300.50,454.66 L302.50,454.52 L304.50,454.38 L306.50,454.25 L308.50,454.11 L310.50,453.98 L312.50,453.84 L314.50,453.71 L316.50,453.57 L318.50,453.44 L320.50,453.30 L322.40,453.18" fill="none" stroke="#1a45a2" stroke-width="1.5" stroke-linejoin="round" stroke-linecap="round"/>
<path d="M46.50,475.46 L48.50,474.20 L50.50,472.91 L52.50,471.60 L54.50,470.26 L56.50,468.90 L58.50,467.51 L60.50,466.10 L62.50,464.67 L64.50,463.22 L66.50,461.74 L68.50,460.25 L70.50,458.74 L72.50,457.22 L74.50,455.67 L76.50,454.11 L78.50,452.54 L80.50,450.95 L82.50,449.35 L84.50,447.74 L86.50,446.11 L88.50,444.48 L90.50,442.83 L92.50,441.18 L94.50,439.52 L96.50,437.85 L98.50,436.17 L100.50,434.48 L102.50,432.79 L104.50,431.10 L106.50,429.40 L108.50,427.70 L110.50,425.99 L112.50,424.28 L114.50,422.57 L116.50,420.86 L118.50,419.14 L120.50,417.43 L122.50,415.72 L124.50,414.00 L126.50,412.29 L128.50,410.58 L130.50,408.88 L132.50,407.17 L134.50,405.47 L136.50,403.78 L138.50,402.08 L140.50,400.40 L142.50,398.71 L144.50,397.04 L146.50,395.37 L148.50,393.70 L150.50,392.04 L152.50,390.39 L154.50,388.75 L156.50,387.11 L158.50,385.48 L160.50,383.86 L162.50,382.25 L164.50,380.64 L166.50,379.05 L168.50,377.47 L170.50,375.89 L172.50,374.32 L174.50,372.77 L176.50,371.22 L178.50,369.69 L180.50,368.16 L182.50,366.65 L184.50,365.15 L186.50,363.65 L188.50,362.17 L190.50,360.70 L192.50,359.24 L194.50,357.79 L196.50,356.36 L198.50,354.93 L200.50,353.52 L202.50,352.12 L204.50,350.73 L206.50,349.35 L208.50,347.98 L210.50,346.62 L212.50,345.28 L214.50,343.95 L216.50,342.62 L218.50,341.31 L220.50,340.01 L222.50,338.73 L224.50,337.45 L226.50,336.18 L228.50,334.92 L230.50,333.68 L232.50,332.44 L234.50,331.22 L236.50,330.00 L238.50,328.80 L240.50,327.60 L242.50,326.41 L244.50,325.23 L246.50,324.06 L248.50,322.90 L250.50,321.75 L252.50,320.60 L254.50,319.47 L256.50,318.34 L258.50,317.21 L260.50,316.10 L262.50,314.98 L264.50,313.88 L266.50,312.78 L268.50,311.69 L270.50,310.59 L272.50,309.51 L274.50,308.43 L276.50,307.35 L278.50,306.27 L280.50,305.20 L282.50,304.12 L284.50,303.05 L286.50,301.98 L288.50,300.91 L290.50,299.84 L292.50,298.77 L294.50,297.70 L296.50,296.62 L298.50,295.54 L300.50,294.46 L302.50,293.38 L304.50,292.29 L306.50,291.19 L308.50,290.09 L310.50,288.98 L312.50,287.87 L314.50,286.75 L316.50,285.62 L318.50,284.47 L320.50,283.32 L322.40,282.22" fill="none" stroke="#d0202a" stroke-width="1.6" stroke-linejoin="round" stroke-linecap="round"/>
<line x1="53.80" y1="282.20" x2="74.30" y2="282.20" stroke="#d0202a" stroke-width="1.4"/>
<line x1="53.80" y1="298.10" x2="74.30" y2="298.10" stroke="#1a45a2" stroke-width="1.4"/>
<line x1="53.80" y1="314.30" x2="74.30" y2="314.30" stroke="#111111" stroke-width="1.4"/>
<text x="79.60" y="286.30" font-size="12.70" font-weight="bold" fill="#231f20" textLength="88.38" lengthAdjust="spacingAndGlyphs">poly-Fe5-PCz</text>
<text x="167.98" y="286.30" font-size="12.70" fill="#231f20" textLength="29.98" lengthAdjust="spacingAndGlyphs">@GC</text>
<text x="79.60" y="302.10" font-size="12.70" font-weight="bold" fill="#231f20" textLength="73.73" lengthAdjust="spacingAndGlyphs">Nafion-Fe5</text>
<text x="153.33" y="302.10" font-size="12.70" fill="#231f20" textLength="29.98" lengthAdjust="spacingAndGlyphs">@GC</text>
<text x="79.60" y="317.90" font-size="12.70" fill="#231f20" textLength="48.93" lengthAdjust="spacingAndGlyphs">bare GC</text>
<rect x="373.70" y="267.40" width="276.80" height="207.05" fill="none" stroke="#333" stroke-width="1.1"/>
<line x1="428.90" y1="474.45" x2="428.90" y2="470.45" stroke="#333" stroke-width="1.1"/>
<line x1="484.30" y1="474.45" x2="484.30" y2="470.45" stroke="#333" stroke-width="1.1"/>
<line x1="539.70" y1="474.45" x2="539.70" y2="470.45" stroke="#333" stroke-width="1.1"/>
<line x1="595.10" y1="474.45" x2="595.10" y2="470.45" stroke="#333" stroke-width="1.1"/>
<line x1="373.70" y1="444.87" x2="377.70" y2="444.87" stroke="#333" stroke-width="1.1"/>
<line x1="373.70" y1="415.29" x2="377.70" y2="415.29" stroke="#333" stroke-width="1.1"/>
<line x1="373.70" y1="385.71" x2="377.70" y2="385.71" stroke="#333" stroke-width="1.1"/>
<line x1="373.70" y1="356.14" x2="377.70" y2="356.14" stroke="#333" stroke-width="1.1"/>
<line x1="373.70" y1="326.56" x2="377.70" y2="326.56" stroke="#333" stroke-width="1.1"/>
<line x1="373.70" y1="296.98" x2="377.70" y2="296.98" stroke="#333" stroke-width="1.1"/>
<line x1="650.50" y1="435.08" x2="646.50" y2="435.08" stroke="#333" stroke-width="1.1"/>
<line x1="650.50" y1="395.71" x2="646.50" y2="395.71" stroke="#333" stroke-width="1.1"/>
<line x1="650.50" y1="356.34" x2="646.50" y2="356.34" stroke="#333" stroke-width="1.1"/>
<line x1="650.50" y1="316.97" x2="646.50" y2="316.97" stroke="#333" stroke-width="1.1"/>
<line x1="650.50" y1="277.60" x2="646.50" y2="277.60" stroke="#333" stroke-width="1.1"/>
<text x="350.21" y="478.80" font-size="12.70" fill="#231f20" textLength="19.27" lengthAdjust="spacingAndGlyphs">0.0</text>
<text x="350.21" y="449.22" font-size="12.70" fill="#231f20" textLength="19.27" lengthAdjust="spacingAndGlyphs">1.0</text>
<text x="350.21" y="419.64" font-size="12.70" fill="#231f20" textLength="19.27" lengthAdjust="spacingAndGlyphs">2.0</text>
<text x="350.21" y="390.06" font-size="12.70" fill="#231f20" textLength="19.27" lengthAdjust="spacingAndGlyphs">3.0</text>
<text x="350.21" y="360.49" font-size="12.70" fill="#231f20" textLength="19.27" lengthAdjust="spacingAndGlyphs">4.0</text>
<text x="350.21" y="330.91" font-size="12.70" fill="#231f20" textLength="19.27" lengthAdjust="spacingAndGlyphs">5.0</text>
<text x="350.21" y="301.33" font-size="12.70" fill="#231f20" textLength="19.27" lengthAdjust="spacingAndGlyphs">6.0</text>
<text x="350.21" y="271.75" font-size="12.70" fill="#231f20" textLength="19.27" lengthAdjust="spacingAndGlyphs">7.0</text>
<text x="653.00" y="478.80" font-size="12.70" fill="#231f20" textLength="7.65" lengthAdjust="spacingAndGlyphs">0</text>
<text x="653.00" y="439.43" font-size="12.70" fill="#231f20" textLength="15.51" lengthAdjust="spacingAndGlyphs">20</text>
<text x="653.00" y="400.06" font-size="12.70" fill="#231f20" textLength="15.51" lengthAdjust="spacingAndGlyphs">40</text>
<text x="653.00" y="360.69" font-size="12.70" fill="#231f20" textLength="15.51" lengthAdjust="spacingAndGlyphs">60</text>
<text x="653.00" y="321.32" font-size="12.70" fill="#231f20" textLength="15.51" lengthAdjust="spacingAndGlyphs">80</text>
<text x="653.00" y="281.95" font-size="12.70" fill="#231f20" textLength="23.15" lengthAdjust="spacingAndGlyphs">100</text>
<text x="390.12" y="490.80" font-size="12.70" fill="#231f20" textLength="26.91" lengthAdjust="spacingAndGlyphs">1.85</text>
<text x="445.52" y="490.80" font-size="12.70" fill="#231f20" textLength="26.91" lengthAdjust="spacingAndGlyphs">1.90</text>
<text x="500.92" y="490.80" font-size="12.70" fill="#231f20" textLength="26.91" lengthAdjust="spacingAndGlyphs">1.95</text>
<text x="556.32" y="490.80" font-size="12.70" fill="#231f20" textLength="26.91" lengthAdjust="spacingAndGlyphs">2.00</text>
<text x="611.72" y="490.80" font-size="12.70" fill="#231f20" textLength="26.91" lengthAdjust="spacingAndGlyphs">2.05</text>
<text x="427.20" y="508.00" font-size="12.70" fill="#231f20" textLength="174.55" lengthAdjust="spacingAndGlyphs">Applied Potential / V vs. RHE</text>
<text transform="translate(343.30,371.50) rotate(-90)" x="-32.98" y="0" font-size="12.70" fill="#231f20" textLength="65.99" lengthAdjust="spacingAndGlyphs">Charge / C</text>
<text transform="translate(676.10,371.90) rotate(90)" x="-68.99" y="0" font-size="12.70" fill="#231f20" textLength="138.02" lengthAdjust="spacingAndGlyphs">Faradaic Efficiency / %</text>
<rect x="390.10" y="413.52" width="22.20" height="60.93" fill="#f1cd45" stroke="#a89c76" stroke-width="0.7"/>
<rect x="445.50" y="425.35" width="22.20" height="49.10" fill="#f1cd45" stroke="#a89c76" stroke-width="0.7"/>
<rect x="500.90" y="407.90" width="22.20" height="66.55" fill="#f1cd45" stroke="#a89c76" stroke-width="0.7"/>
<rect x="556.30" y="382.16" width="22.20" height="92.29" fill="#f1cd45" stroke="#a89c76" stroke-width="0.7"/>
<rect x="611.70" y="281.60" width="22.20" height="192.85" fill="#f1cd45" stroke="#a89c76" stroke-width="0.7"/>
<circle cx="401.0" cy="279.0" r="2.85" fill="#1442a6" stroke="#0a1f66" stroke-width="0.75"/>
<circle cx="456.4" cy="283.0" r="2.85" fill="#1442a6" stroke="#0a1f66" stroke-width="0.75"/>
<circle cx="511.7" cy="280.9" r="2.85" fill="#1442a6" stroke="#0a1f66" stroke-width="0.75"/>
<circle cx="567.0" cy="287.4" r="2.85" fill="#1442a6" stroke="#0a1f66" stroke-width="0.75"/>
<circle cx="622.4" cy="279.0" r="2.85" fill="#1442a6" stroke="#0a1f66" stroke-width="0.75"/>
<line x1="628.00" y1="279.00" x2="638.30" y2="279.00" stroke="#0c3592" stroke-width="2.4"/>
<path d="M643.80,279.00 L636.60,275.60 L637.80,279.00 L636.60,282.40 Z" fill="#0c3592"/>
<line x1="393.60" y1="406.40" x2="382.90" y2="406.40" stroke="#dcb535" stroke-width="2.4"/>
<path d="M377.40,406.40 L384.60,403.00 L383.40,406.40 L384.60,409.80 Z" fill="#dcb535"/>
<line x1="99.84" y1="537.80" x2="99.84" y2="745.70" stroke="#c4c4c4" stroke-width="0.8" stroke-dasharray="1 1.2"/>
<line x1="155.08" y1="537.80" x2="155.08" y2="745.70" stroke="#c4c4c4" stroke-width="0.8" stroke-dasharray="1 1.2"/>
<line x1="210.32" y1="537.80" x2="210.32" y2="745.70" stroke="#c4c4c4" stroke-width="0.8" stroke-dasharray="1 1.2"/>
<line x1="265.56" y1="537.80" x2="265.56" y2="745.70" stroke="#c4c4c4" stroke-width="0.8" stroke-dasharray="1 1.2"/>
<rect x="44.60" y="537.80" width="276.20" height="207.90" fill="none" stroke="#333" stroke-width="1.1"/>
<line x1="99.84" y1="745.70" x2="99.84" y2="741.70" stroke="#333" stroke-width="1.1"/>
<line x1="155.08" y1="745.70" x2="155.08" y2="741.70" stroke="#333" stroke-width="1.1"/>
<line x1="210.32" y1="745.70" x2="210.32" y2="741.70" stroke="#333" stroke-width="1.1"/>
<line x1="265.56" y1="745.70" x2="265.56" y2="741.70" stroke="#333" stroke-width="1.1"/>
<line x1="44.60" y1="711.05" x2="48.60" y2="711.05" stroke="#333" stroke-width="1.1"/>
<line x1="44.60" y1="676.40" x2="48.60" y2="676.40" stroke="#333" stroke-width="1.1"/>
<line x1="44.60" y1="641.75" x2="48.60" y2="641.75" stroke="#333" stroke-width="1.1"/>
<line x1="44.60" y1="607.10" x2="48.60" y2="607.10" stroke="#333" stroke-width="1.1"/>
<line x1="44.60" y1="572.45" x2="48.60" y2="572.45" stroke="#333" stroke-width="1.1"/>
<text x="41.36" y="764.10" font-size="12.70" fill="#231f20" textLength="7.65" lengthAdjust="spacingAndGlyphs">0</text>
<text x="93.37" y="764.10" font-size="12.70" fill="#231f20" textLength="15.51" lengthAdjust="spacingAndGlyphs">60</text>
<text x="146.14" y="764.10" font-size="12.70" fill="#231f20" textLength="23.15" lengthAdjust="spacingAndGlyphs">120</text>
<text x="200.84" y="764.10" font-size="12.70" fill="#231f20" textLength="23.15" lengthAdjust="spacingAndGlyphs">180</text>
<text x="256.14" y="764.10" font-size="12.70" fill="#231f20" textLength="23.15" lengthAdjust="spacingAndGlyphs">240</text>
<text x="311.44" y="764.10" font-size="12.70" fill="#231f20" textLength="23.15" lengthAdjust="spacingAndGlyphs">300</text>
<text x="21.91" y="750.05" font-size="12.70" fill="#231f20" textLength="19.27" lengthAdjust="spacingAndGlyphs">0.0</text>
<text x="21.91" y="715.40" font-size="12.70" fill="#231f20" textLength="19.27" lengthAdjust="spacingAndGlyphs">1.0</text>
<text x="21.91" y="680.75" font-size="12.70" fill="#231f20" textLength="19.27" lengthAdjust="spacingAndGlyphs">2.0</text>
<text x="21.91" y="646.10" font-size="12.70" fill="#231f20" textLength="19.27" lengthAdjust="spacingAndGlyphs">3.0</text>
<text x="21.91" y="611.45" font-size="12.70" fill="#231f20" textLength="19.27" lengthAdjust="spacingAndGlyphs">4.0</text>
<text x="21.91" y="576.80" font-size="12.70" fill="#231f20" textLength="19.27" lengthAdjust="spacingAndGlyphs">5.0</text>
<text x="21.91" y="542.15" font-size="12.70" fill="#231f20" textLength="19.27" lengthAdjust="spacingAndGlyphs">6.0</text>
<text x="150.30" y="777.90" font-size="12.70" fill="#231f20" textLength="66.32" lengthAdjust="spacingAndGlyphs">Time / min</text>
<text transform="translate(10.20,641.10) rotate(-90)" x="-32.98" y="0" font-size="12.70" fill="#231f20" textLength="65.99" lengthAdjust="spacingAndGlyphs">Charge / C</text>
<text x="49.98" y="554.80" font-size="12.70" fill="#231f20" textLength="44.66" lengthAdjust="spacingAndGlyphs">Cycle 1</text>
<text x="105.28" y="554.80" font-size="12.70" fill="#231f20" textLength="44.66" lengthAdjust="spacingAndGlyphs">Cycle 2</text>
<text x="160.58" y="554.80" font-size="12.70" fill="#231f20" textLength="44.66" lengthAdjust="spacingAndGlyphs">Cycle 3</text>
<text x="215.88" y="554.80" font-size="12.70" fill="#231f20" textLength="44.66" lengthAdjust="spacingAndGlyphs">Cycle 4</text>
<text x="271.18" y="554.80" font-size="12.70" fill="#231f20" textLength="44.66" lengthAdjust="spacingAndGlyphs">Cycle 5</text>
<path d="M44.60,745.70 L99.70,620.50" fill="none" stroke="#d21f2b" stroke-width="1.6" stroke-linejoin="round" stroke-linecap="butt"/>
<path d="M99.84,745.70 L155.20,604.60" fill="none" stroke="#ef7a22" stroke-width="1.6" stroke-linejoin="round" stroke-linecap="butt"/>
<path d="M155.08,745.70 L210.20,602.40" fill="none" stroke="#1b6b3a" stroke-width="1.6" stroke-linejoin="round" stroke-linecap="butt"/>
<path d="M210.32,745.70 L265.20,565.60" fill="none" stroke="#1e4fae" stroke-width="1.6" stroke-linejoin="round" stroke-linecap="butt"/>
<path d="M265.56,745.70 L320.80,588.80" fill="none" stroke="#6a50ad" stroke-width="1.6" stroke-linejoin="round" stroke-linecap="butt"/>
<rect x="371.00" y="538.00" width="276.80" height="207.50" fill="none" stroke="#333" stroke-width="1.1"/>
<line x1="426.15" y1="745.50" x2="426.15" y2="741.50" stroke="#333" stroke-width="1.1"/>
<line x1="481.65" y1="745.50" x2="481.65" y2="741.50" stroke="#333" stroke-width="1.1"/>
<line x1="537.15" y1="745.50" x2="537.15" y2="741.50" stroke="#333" stroke-width="1.1"/>
<line x1="592.65" y1="745.50" x2="592.65" y2="741.50" stroke="#333" stroke-width="1.1"/>
<line x1="371.00" y1="710.92" x2="375.00" y2="710.92" stroke="#333" stroke-width="1.1"/>
<line x1="371.00" y1="676.33" x2="375.00" y2="676.33" stroke="#333" stroke-width="1.1"/>
<line x1="371.00" y1="641.75" x2="375.00" y2="641.75" stroke="#333" stroke-width="1.1"/>
<line x1="371.00" y1="607.17" x2="375.00" y2="607.17" stroke="#333" stroke-width="1.1"/>
<line x1="371.00" y1="572.58" x2="375.00" y2="572.58" stroke="#333" stroke-width="1.1"/>
<line x1="647.80" y1="705.96" x2="643.80" y2="705.96" stroke="#333" stroke-width="1.1"/>
<line x1="647.80" y1="666.42" x2="643.80" y2="666.42" stroke="#333" stroke-width="1.1"/>
<line x1="647.80" y1="626.88" x2="643.80" y2="626.88" stroke="#333" stroke-width="1.1"/>
<line x1="647.80" y1="587.34" x2="643.80" y2="587.34" stroke="#333" stroke-width="1.1"/>
<line x1="647.80" y1="547.80" x2="643.80" y2="547.80" stroke="#333" stroke-width="1.1"/>
<text x="347.91" y="749.85" font-size="12.70" fill="#231f20" textLength="19.27" lengthAdjust="spacingAndGlyphs">0.0</text>
<text x="347.91" y="715.27" font-size="12.70" fill="#231f20" textLength="19.27" lengthAdjust="spacingAndGlyphs">1.0</text>
<text x="347.91" y="680.68" font-size="12.70" fill="#231f20" textLength="19.27" lengthAdjust="spacingAndGlyphs">2.0</text>
<text x="347.91" y="646.10" font-size="12.70" fill="#231f20" textLength="19.27" lengthAdjust="spacingAndGlyphs">3.0</text>
<text x="347.91" y="611.52" font-size="12.70" fill="#231f20" textLength="19.27" lengthAdjust="spacingAndGlyphs">4.0</text>
<text x="347.91" y="576.93" font-size="12.70" fill="#231f20" textLength="19.27" lengthAdjust="spacingAndGlyphs">5.0</text>
<text x="347.91" y="542.35" font-size="12.70" fill="#231f20" textLength="19.27" lengthAdjust="spacingAndGlyphs">6.0</text>
<text x="653.00" y="749.85" font-size="12.70" fill="#231f20" textLength="7.65" lengthAdjust="spacingAndGlyphs">0</text>
<text x="653.00" y="710.31" font-size="12.70" fill="#231f20" textLength="15.51" lengthAdjust="spacingAndGlyphs">20</text>
<text x="653.00" y="670.77" font-size="12.70" fill="#231f20" textLength="15.51" lengthAdjust="spacingAndGlyphs">40</text>
<text x="653.00" y="631.23" font-size="12.70" fill="#231f20" textLength="15.51" lengthAdjust="spacingAndGlyphs">60</text>
<text x="653.00" y="591.69" font-size="12.70" fill="#231f20" textLength="15.51" lengthAdjust="spacingAndGlyphs">80</text>
<text x="653.00" y="552.15" font-size="12.70" fill="#231f20" textLength="23.15" lengthAdjust="spacingAndGlyphs">100</text>
<text x="395.16" y="762.00" font-size="12.70" fill="#231f20" textLength="7.65" lengthAdjust="spacingAndGlyphs">1</text>
<text x="450.66" y="762.00" font-size="12.70" fill="#231f20" textLength="7.65" lengthAdjust="spacingAndGlyphs">2</text>
<text x="506.16" y="762.00" font-size="12.70" fill="#231f20" textLength="7.65" lengthAdjust="spacingAndGlyphs">3</text>
<text x="561.66" y="762.00" font-size="12.70" fill="#231f20" textLength="7.65" lengthAdjust="spacingAndGlyphs">4</text>
<text x="617.16" y="762.00" font-size="12.70" fill="#231f20" textLength="7.65" lengthAdjust="spacingAndGlyphs">5</text>
<text x="456.80" y="778.60" font-size="12.70" fill="#231f20" textLength="105.91" lengthAdjust="spacingAndGlyphs">Number of Cycles</text>
<text transform="translate(343.10,638.80) rotate(-90)" x="-32.98" y="0" font-size="12.70" fill="#231f20" textLength="65.99" lengthAdjust="spacingAndGlyphs">Charge / C</text>
<text transform="translate(675.80,639.30) rotate(90)" x="-68.99" y="0" font-size="12.70" fill="#231f20" textLength="138.02" lengthAdjust="spacingAndGlyphs">Faradaic Efficiency / %</text>
<rect x="387.30" y="620.65" width="22.20" height="124.85" fill="#f1cd45" stroke="#a89c76" stroke-width="0.7"/>
<rect x="442.80" y="604.75" width="22.20" height="140.75" fill="#f1cd45" stroke="#a89c76" stroke-width="0.7"/>
<rect x="498.30" y="602.67" width="22.20" height="142.83" fill="#f1cd45" stroke="#a89c76" stroke-width="0.7"/>
<rect x="553.80" y="565.32" width="22.20" height="180.18" fill="#f1cd45" stroke="#a89c76" stroke-width="0.7"/>
<rect x="609.30" y="589.18" width="22.20" height="156.32" fill="#f1cd45" stroke="#a89c76" stroke-width="0.7"/>
<circle cx="398.4" cy="571.0" r="2.85" fill="#1442a6" stroke="#0a1f66" stroke-width="0.75"/>
<circle cx="453.6" cy="547.6" r="2.85" fill="#1442a6" stroke="#0a1f66" stroke-width="0.75"/>
<circle cx="509.2" cy="575.4" r="2.85" fill="#1442a6" stroke="#0a1f66" stroke-width="0.75"/>
<circle cx="564.6" cy="564.4" r="2.85" fill="#1442a6" stroke="#0a1f66" stroke-width="0.75"/>
<circle cx="620.0" cy="545.6" r="2.85" fill="#1442a6" stroke="#0a1f66" stroke-width="0.75"/>
<line x1="626.00" y1="545.60" x2="636.50" y2="545.60" stroke="#0c3592" stroke-width="2.4"/>
<path d="M642.00,545.60 L634.80,542.20 L636.00,545.60 L634.80,549.00 Z" fill="#0c3592"/>
<line x1="394.00" y1="614.40" x2="383.10" y2="614.40" stroke="#dcb535" stroke-width="2.4"/>
<path d="M377.60,614.40 L384.80,611.00 L383.60,614.40 L384.80,617.80 Z" fill="#dcb535"/>
</svg>
</body></html>
